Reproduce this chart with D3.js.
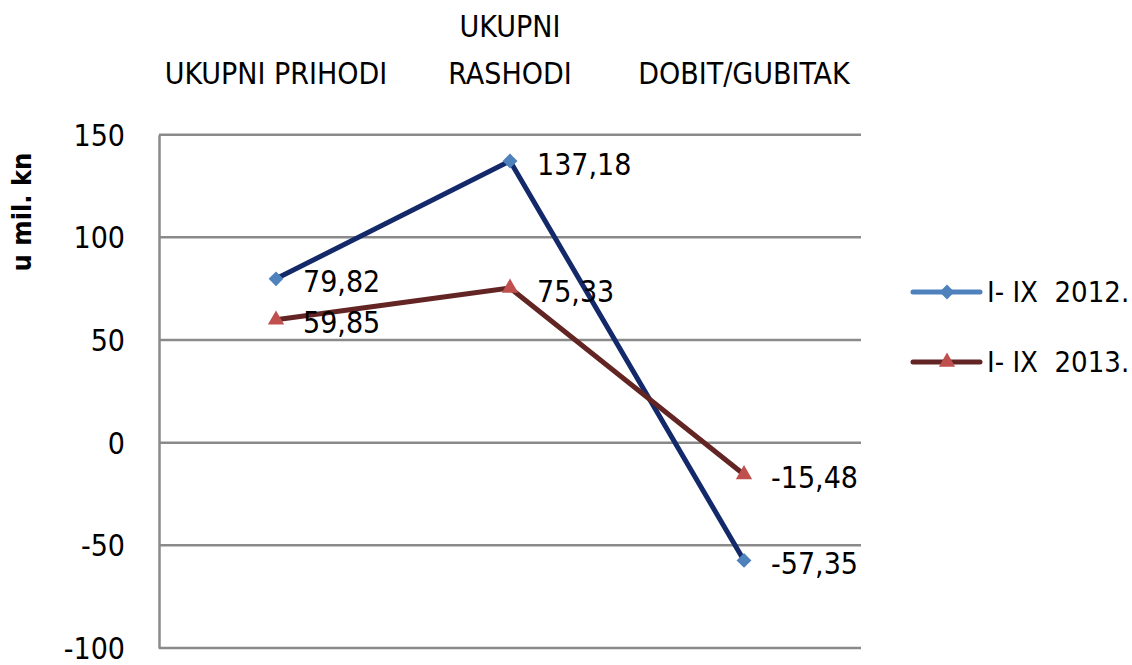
<!DOCTYPE html>
<html>
<head>
<meta charset="utf-8">
<script src="https://cdn.jsdelivr.net/npm/d3@7"></script>
<style>
    body { margin: 0; background: #fff; }
    svg text { font-family: "DejaVu Sans Condensed", "DejaVu Sans", sans-serif; font-stretch: condensed; fill: #000; }
</style>
</head>
<body>
<div id="chart"></div>
<script>
// data
let categories = ["UKUPNI PRIHODI", "UKUPNI RASHODI", "DOBIT/GUBITAK"];
let categoryLines = [["UKUPNI PRIHODI"], ["UKUPNI", "RASHODI"], ["DOBIT/GUBITAK"]];
let seriesNames = ["I- IX  2012.", "I- IX  2013."];
let values2012 = [79.82, 137.18, -57.35];
let values2013 = [59.85, 75.33, -15.48];
let labels2012 = ["79,82", "137,18", "-57,35"];
let labels2013 = ["59,85", "75,33", "-15,48"];
let yTicks = [-100, -50, 0, 50, 100, 150];

let width = 1132, height = 665;
let margin = {top: 134.7, right: 271, bottom: 17, left: 159};

let svg = d3.select("#chart").append("svg")
    .attr("width", width)
    .attr("height", height);

let x = d3.scaleBand()
    .domain(categories)
    .range([margin.left, width - margin.right]);

let y = d3.scaleLinear()
    .domain([-100, 150])
    .range([height - margin.bottom, margin.top]);

// gridlines
svg.append("g")
    .selectAll("line")
    .data(yTicks)
    .enter().append("line")
    .attr("x1", margin.left)
    .attr("x2", width - margin.right)
    .attr("y1", d => y(d))
    .attr("y2", d => y(d))
    .style("stroke", "#8a8a8a")
    .style("stroke-width", 2.5);

// y axis
let yAxis = d3.axisLeft(y)
    .tickValues(yTicks)
    .tickSize(0)
    .tickPadding(34)
    .tickFormat(d => d);

let yg = svg.append("g")
    .attr("transform", "translate(" + margin.left + ",0)")
    .call(yAxis);
yg.select(".domain")
    .style("stroke", "#8a8a8a")
    .style("stroke-width", 2.5);
yg.selectAll("text")
    .style("font-size", "30px")
    .attr("dy", "0.35em");

// y axis title
svg.append("text")
    .attr("transform", "translate(31,212) rotate(-90)")
    .attr("text-anchor", "middle")
    .style("font-size", "27px")
    .style("font-weight", "bold")
    .text("u mil. kn");

// category labels on top
let catG = svg.append("g")
    .selectAll("text")
    .data(categories)
    .enter().append("text")
    .attr("text-anchor", "middle")
    .style("font-size", "30px");
catG.each(function(d, i) {
    let lines = categoryLines[i];
    let t = d3.select(this);
    lines.forEach(function(line, j) {
        t.append("tspan")
            .attr("x", x(d) + x.bandwidth() / 2)
            .attr("y", 84 - (lines.length - 1 - j) * 47)
            .text(line);
    });
});

let series = [
    {name: seriesNames[0], values: values2012, labels: labels2012, line: "#13296a", marker: "#4f81bd", legendLine: "#4f81bd", symbol: "diamond"},
    {name: seriesNames[1], values: values2013, labels: labels2013, line: "#632523", marker: "#c0504d", legendLine: "#632523", symbol: "triangle"}
];

let cx = (d, i) => x(categories[i]) + x.bandwidth() / 2;

let line = d3.line()
    .x((d, i) => cx(d, i))
    .y(d => y(d));

function drawMarker(g, s, px, py) {
    if (s.symbol === "diamond") {
        g.append("path")
            .attr("d", d3.symbol().type(d3.symbolSquare).size(110)())
            .attr("transform", "translate(" + px + "," + py + ") rotate(45)")
            .style("fill", s.marker);
    } else {
        g.append("path")
            .attr("d", d3.symbol().type(d3.symbolTriangle).size(115)())
            .attr("transform", "translate(" + px + "," + py + ")")
            .style("fill", s.marker);
    }
}

series.forEach(function(s) {
    svg.append("path")
        .datum(s.values)
        .attr("d", line)
        .style("fill", "none")
        .style("stroke", s.line)
        .style("stroke-width", 5)
        .style("stroke-linejoin", "round");
});

series.forEach(function(s) {
    let g = svg.append("g");
    s.values.forEach(function(v, i) {
        drawMarker(g, s, cx(v, i), y(v));
    });
    g.selectAll("text")
        .data(s.values)
        .enter().append("text")
        .attr("x", (d, i) => cx(d, i) + 27)
        .attr("y", d => y(d) + 3)
        .attr("dy", "0.35em")
        .style("font-size", "30px")
        .text((d, i) => s.labels[i]);
});

// legend
let legend = svg.append("g");
series.forEach(function(s, i) {
    let ly = 292 + i * 70;
    legend.append("line")
        .attr("x1", 913)
        .attr("x2", 980)
        .attr("y1", ly)
        .attr("y2", ly)
        .style("stroke", s.legendLine)
        .style("stroke-width", 5)
        .style("stroke-linecap", "round");
    drawMarker(legend, s, 947, ly);
    legend.append("text")
        .attr("x", 987)
        .attr("y", ly)
        .attr("dy", "0.35em")
        .style("font-size", "29px")
        .style("white-space", "pre")
        .text(s.name);
});
</script>
</body>
</html>
